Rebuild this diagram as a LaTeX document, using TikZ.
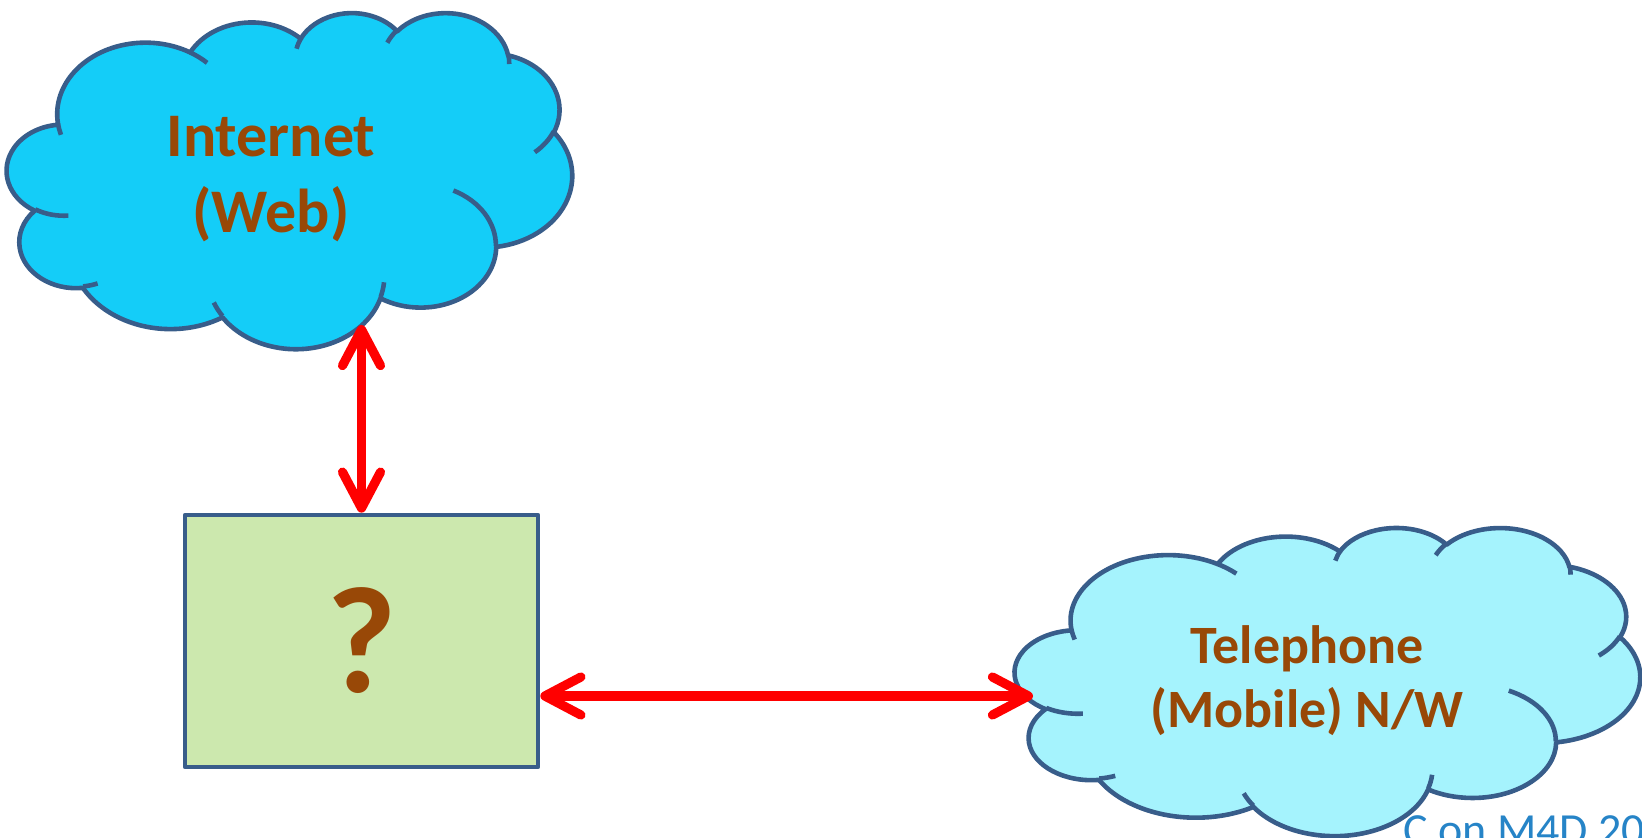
\documentclass[tikz,border=0pt]{standalone}
\usepackage{fontspec}
\setmainfont{Carlito}
\usetikzlibrary{arrows.meta}

\definecolor{webcyan}{RGB}{20,205,248}
\definecolor{telcyan}{RGB}{165,243,253}
\definecolor{edgeblue}{RGB}{56,93,138}
\definecolor{boxgreen}{RGB}{204,232,174}
\definecolor{textbrown}{RGB}{152,72,7}
\definecolor{footblue}{RGB}{38,132,199}

\tikzset{
  cloudline/.style={draw=edgeblue, line width=2.3pt, line join=round},
  cloudtext/.style={text=textbrown, align=center},
  qbox/.style={draw=edgeblue, fill=boxgreen, line width=2.3pt, line join=round,
    minimum width=176.5pt, minimum height=126pt, inner sep=0pt},
  link/.style={draw=red, line width=4.6pt, line cap=round,
    {Straight Barb[length=18pt,width=19pt,round]}-{Straight Barb[length=18pt,width=19pt,round]}}
}
\pgfkeys{/pgf/foreach/arcangles/.style={
    evaluate=\st as \ts using {atan2((\rx)*sin(\st),(\ry)*cos(\st))},
    evaluate=\sw as \te using {atan2((\rx)*sin((\st)+(\sw)),(\ry)*cos((\st)+(\sw)))},
    evaluate=\sw as \dl using {(\te)-(\ts)-360*round(((\te)-(\ts)-(\sw))/360)}}}

% cloud in a 432 x 432 frame: x, y, xscale, yscale, fill
\newcommand{\cloudshape}[5]{%
  \begin{scope}[shift={(#1,#2)}, xscale=#3, yscale=#4]
    \filldraw[cloudline, fill=#5] (39.00,143.70)
      \foreach \rx/\ry/\st/\sw [arcangles] in
      {67.53/91.90/-190.4875/123.7805, 53.33/72.67/-144.1024/89.9452,
       43.65/59.45/-145.8079/99.7230, 48.57/65.95/-130.9861/117.2417,
       53.33/72.73/-78.7089/109.0269, 67.75/92.20/-46.2673/130.2690,
       57.85/78.67/0.6250/114.0333, 67.52/92.15/22.4516/115.1726,
       77.20/105.43/66.2426/75.7110, 43.60/59.18/-274.9421/146.7356,
       43.45/59.45/-246.8285/152.5311}
      { arc[x radius=\rx, y radius=\ry, start angle=\ts, delta angle=\dl] } -- cycle;
    \draw[cloudline]
      \foreach \px/\py/\rx/\ry/\st/\sw [arcangles] in
      {46.93/261.77/43.45/59.45/86.7420/26.4295,
       69.28/348.99/43.60/59.18/73.6105/11.4475,
       164.78/390.90/67.52/92.15/137.6242/14.0811,
       288.27/347.51/67.52/92.15/6.4533/15.9984,
       341.29/229.54/57.85/78.67/-70.2924/70.9174,
       417.98/153.54/53.33/72.73/30.3180/27.7515,
       383.24/54.26/48.57/65.95/-13.7443/14.8589,
       290.78/39.52/48.57/65.95/-149.1815/18.1954,
       221.41/47.20/43.65/59.45/-163.4943/17.6864,
       140.00/51.92/67.53/91.90/-66.7070/12.3194,
       41.27/157.89/67.53/91.90/157.6544/11.8582}
      { (\px,\py) arc[x radius=\rx, y radius=\ry, start angle=\ts, delta angle=\dl] };
  \end{scope}}

\begin{document}
\begin{tikzpicture}[x=0.5pt, y=-0.5pt]
  \useasboundingbox (0,0) rectangle (1642,838);
  \clip (0,0) rectangle (1642,838);

  % footer, partly hidden by the lower cloud
  \node[anchor=base west, inner sep=0pt, text=footblue,
    font=\fontsize{23}{28}\selectfont] (footer) at (1403,845) {C on M4D 20};

  \cloudshape{7}{12}{1.3079}{0.7778}{webcyan}
  \cloudshape{1015}{527}{1.4468}{0.7130}{telcyan}

  \node[cloudtext, font=\fontsize{31}{38}\selectfont\bfseries] (web) at (271,179)
    {Internet\\(Web)};
  \node[cloudtext, font=\fontsize{27}{32}\selectfont\bfseries] (tel) at (1307,681)
    {Telephone\\(Mobile) N/W};

  \node[qbox, text=textbrown, font=\fontsize{76}{80}\selectfont\bfseries] (box)
    at (361.5,641) {?};

  \coordinate (webfoot) at (361.5,325);
  \coordinate (telside) at (1033,696);
  \draw[link] (box.north) -- (webfoot);
  \draw[link] (box.east |- telside) -- (telside);
\end{tikzpicture}
\end{document}
